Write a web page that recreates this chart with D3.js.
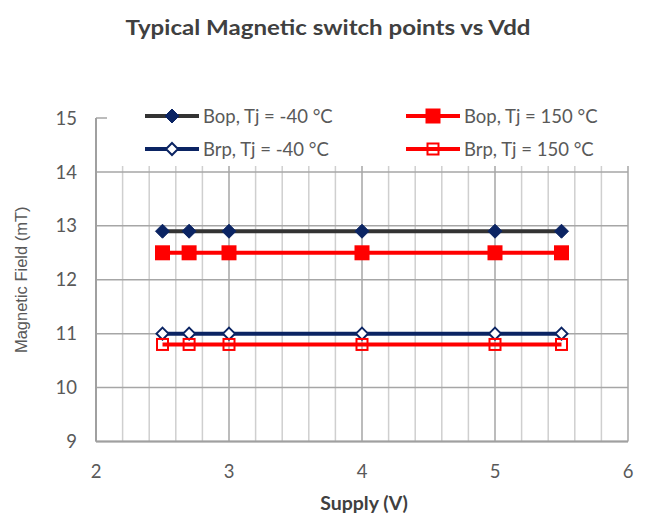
<!DOCTYPE html>
<html>
<head>
<meta charset="utf-8">
<script src="https://cdn.jsdelivr.net/npm/d3@7"></script>
<style>
  body { margin: 0; background: #fff; }
  svg { display: block; }
</style>
</head>
<body>
<svg id="chart" width="648" height="516"></svg>
<script>
// data
const supply = [2.5, 2.7, 3, 4, 5, 5.5];
const bopCold = [12.9, 12.9, 12.9, 12.9, 12.9, 12.9];
const bopHot = [12.5, 12.5, 12.5, 12.5, 12.5, 12.5];
const brpCold = [11.0, 11.0, 11.0, 11.0, 11.0, 11.0];
const brpHot = [10.8, 10.8, 10.8, 10.8, 10.8, 10.8];
const seriesNames = ['Bop, Tj = -40 °C', 'Bop, Tj = 150 °C', 'Brp, Tj = -40 °C', 'Brp, Tj = 150 °C'];
const xTicks = [2, 3, 4, 5, 6];
const yTicks = [9, 10, 11, 12, 13, 14, 15];

const svg = d3.select('#chart');
const calibri = 'Lato, "Open Sans", sans-serif';
const textColor = '#595959';

const x = d3.scaleLinear().domain([2, 6]).range([96, 628]);
const y = d3.scaleLinear().domain([9, 15]).range([441.5, 118]);

// minor vertical grid every 0.2
const minor = d3.range(2, 6.001, 0.2).filter(v => Math.abs(v - Math.round(v)) > 0.01);
svg.append('g').selectAll('line').data(minor).join('line')
  .attr('x1', d => x(d)).attr('x2', d => x(d))
  .attr('y1', y(15)).attr('y2', y(9))
  .attr('stroke', '#cfcfcf').attr('stroke-width', 1.5);

// major grid
svg.append('g').selectAll('line').data(xTicks).join('line')
  .attr('x1', d => x(d)).attr('x2', d => x(d))
  .attr('y1', y(15)).attr('y2', y(9))
  .attr('stroke', '#a6a6a6').attr('stroke-width', 1.5);
svg.append('g').selectAll('line').data(yTicks).join('line')
  .attr('x1', x(2)).attr('x2', x(6))
  .attr('y1', d => y(d)).attr('y2', d => y(d))
  .attr('stroke', '#a6a6a6').attr('stroke-width', 1.5);

// axes lines
svg.append('line').attr('x1', x(2)).attr('x2', x(2)).attr('y1', y(15)).attr('y2', y(9))
  .attr('stroke', '#a0a0a0').attr('stroke-width', 2);
svg.append('line').attr('x1', x(2)).attr('x2', x(6)).attr('y1', y(9)).attr('y2', y(9))
  .attr('stroke', '#a0a0a0').attr('stroke-width', 2);

// tick labels
svg.append('g').selectAll('text').data(yTicks).join('text')
  .attr('x', 77).attr('y', d => y(d)).attr('dy', '0.36em')
  .attr('text-anchor', 'end')
  .attr('font-family', calibri).attr('font-size', 18.5).attr('fill', textColor)
  .text(d => d);
svg.append('g').selectAll('text').data(xTicks).join('text')
  .attr('x', d => x(d)).attr('y', 471).attr('dy', '0.36em')
  .attr('text-anchor', 'middle')
  .attr('font-family', calibri).attr('font-size', 18.5).attr('fill', textColor)
  .text(d => d);

// titles
svg.append('text').attr('x', 328).attr('y', 35)
  .attr('text-anchor', 'middle').attr('font-family', calibri)
  .attr('font-weight', 'bold').attr('font-size', 21).attr('fill', '#404040')
  .attr('textLength', 405).attr('lengthAdjust', 'spacingAndGlyphs')
  .text('Typical Magnetic switch points vs Vdd');
svg.append('text').attr('x', 364).attr('y', 510)
  .attr('text-anchor', 'middle').attr('font-family', calibri)
  .attr('font-weight', 'bold').attr('font-size', 19.5).attr('fill', '#404040')
  .text('Supply (V)');
svg.append('text')
  .attr('transform', `translate(27,${(y(15) + y(9)) / 2}) rotate(-90)`)
  .attr('text-anchor', 'middle').attr('font-family', '"Liberation Sans", Arial, sans-serif')
  .attr('font-size', 16.5).attr('fill', textColor)
  .text('Magnetic Field (mT)');

// legend background hides grid behind it
svg.append('rect').attr('x', 107).attr('y', 100).attr('width', 530).attr('height', 66)
  .attr('fill', '#fff');

const navy = '#0b2463';
const red = '#ff0000';
const styles = [
  { values: bopCold, line: '#333333', shape: 'diamond', size: 14, fill: navy, stroke: navy },
  { values: bopHot, line: red, shape: 'square', size: 15, fill: red, stroke: red },
  { values: brpCold, line: navy, shape: 'diamond', size: 12, fill: '#fff', stroke: navy },
  { values: brpHot, line: red, shape: 'square', size: 13, fill: 'none', stroke: red }
];

function marker(g, s, cx, cy) {
  if (s.shape === 'diamond') {
    const h = s.size / 2;
    g.append('path')
      .attr('d', `M${cx},${cy - h}L${cx + h},${cy}L${cx},${cy + h}L${cx - h},${cy}Z`)
      .attr('fill', s.fill).attr('stroke', s.stroke).attr('stroke-width', s.fill === '#fff' ? 2 : 1);
  } else {
    const h = s.size / 2;
    const sw = s.fill === 'none' ? 2 : 0;
    g.append('rect')
      .attr('x', cx - h + sw / 2).attr('y', cy - h + sw / 2)
      .attr('width', s.size - sw).attr('height', s.size - sw)
      .attr('fill', s.fill).attr('stroke', s.stroke).attr('stroke-width', sw);
  }
}

const line = d3.line().x(d => x(d[0])).y(d => y(d[1]));

styles.forEach(s => {
  const pts = supply.map((v, i) => [v, s.values[i]]);
  const g = svg.append('g');
  g.append('path').attr('d', line(pts))
    .attr('fill', 'none').attr('stroke', s.line).attr('stroke-width', 4);
  pts.forEach(p => marker(g, s, x(p[0]), y(p[1])));
});

// legend
const legendPos = [[145, 116], [406, 116], [145, 149], [406, 149]];
styles.forEach((s, i) => {
  const [lx, ly] = legendPos[i];
  const g = svg.append('g');
  g.append('line').attr('x1', lx).attr('x2', lx + 54).attr('y1', ly).attr('y2', ly)
    .attr('stroke', s.line).attr('stroke-width', 4);
  marker(g, s, lx + 27, ly);
  g.append('text').attr('x', lx + 58).attr('y', ly).attr('dy', '0.36em')
    .attr('font-family', calibri).attr('font-size', 18.5).attr('fill', textColor)
    .text(seriesNames[i]);
});
</script>
</body>
</html>
